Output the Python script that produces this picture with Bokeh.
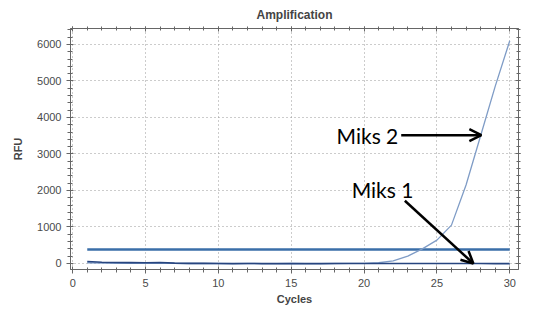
from bokeh.plotting import figure
from bokeh.models import (LinearAxis, Arrow, OpenHead, Range1d, Label, SingleIntervalTicker,
                          CustomJSTickFormatter)
from bokeh.embed import file_html
from bokeh.resources import INLINE

cycles = list(range(1, 31))
miks1 = [55, 35, 25, 22, 20, 28, 10, 2, 4, 0, -4, 0, -4, -4, 0, -4, -4, 0, 0, 0,
         0, 0, 0, 0, 0, 0, 0, 0, -5, -5]
miks2 = [20, 10, 6, 5, 4, 6, 2, 0, 2, 0, -2, 0, -2, -2, 0, -2, -2, 0, 2, 5,
         20, 70, 200, 400, 640, 1050, 2150, 3500, 4850, 6100]
threshold = 380
x_ticks = [0, 5, 10, 15, 20, 25, 30]
y_ticks = [0, 1000, 2000, 3000, 4000, 5000, 6000]

p = figure(width=526, height=308, output_backend="svg", toolbar_location=None,
           x_range=Range1d(-0.15, 30.6), y_range=Range1d(-165, 6436),
           min_border_left=70, min_border_right=8, min_border_top=27, min_border_bottom=39)

p.title.text = "Amplification"
p.title.align = "center"
p.title.text_font = "Liberation Sans"
p.title.text_font_size = "12px"
p.title.text_font_style = "bold"
p.title.offset = 0
p.title.standoff = 10

p.outline_line_color = "#777777"

for ax in (p.xaxis[0], p.yaxis[0]):
    ax.major_label_text_font = "Liberation Sans"
    ax.major_label_text_font_size = "11px"
    ax.major_label_text_color = "#4a4a4a"
    ax.axis_label_text_font = "Liberation Sans"
    ax.axis_label_text_font_style = "bold"
    ax.axis_label_text_font_size = "11px"
    ax.axis_line_color = "#666666"
    ax.major_tick_line_color = "#666666"
    ax.minor_tick_line_color = "#666666"
    ax.major_tick_in = 3
    ax.major_tick_out = 4
    ax.minor_tick_in = 2
    ax.minor_tick_out = 3

p.xaxis.axis_label = "Cycles"
p.yaxis.axis_label = "RFU"
p.xaxis.ticker = SingleIntervalTicker(interval=5, num_minor_ticks=5)
p.yaxis.ticker = SingleIntervalTicker(interval=1000, num_minor_ticks=5)
p.xaxis.axis_label_standoff = 3
p.yaxis.axis_label_standoff = 10

for side, interval, mt in (("above", 5, 5), ("right", 1000, 5)):
    ax = LinearAxis(ticker=SingleIntervalTicker(interval=interval, num_minor_ticks=mt),
                    formatter=CustomJSTickFormatter(code="return ''"),
                    major_label_standoff=0, major_label_text_font_size="1px",
                    axis_line_color="#666666", major_tick_line_color="#666666",
                    minor_tick_line_color="#666666",
                    major_tick_in=3, major_tick_out=2, minor_tick_in=2, minor_tick_out=2)
    p.add_layout(ax, side)

p.xgrid.ticker = SingleIntervalTicker(interval=5)
p.ygrid.ticker = SingleIntervalTicker(interval=1000)
for g in (p.xgrid[0], p.ygrid[0]):
    g.grid_line_color = "#999999"
    g.grid_line_dash = "1 3"
    g.grid_line_width = 1

p.line([cycles[0], cycles[-1]], [threshold, threshold], line_color="#3a6ea8", line_width=2.5)
p.line(cycles, miks2, line_color="#7f9cc6", line_width=1.3)
p.line(cycles, miks1, line_color="#27457f", line_width=1.6)

p.add_layout(Label(x=22.35, y=3515, text="Miks 2", text_align="right", text_baseline="middle",
                   text_font="Lato", text_font_size="21px", text_color="black"))
p.add_layout(Label(x=19.15, y=2016, text="Miks 1", text_align="left", text_baseline="middle",
                   text_font="Lato", text_font_size="21px", text_color="black"))

p.add_layout(Arrow(x_start=22.55, y_start=3515, x_end=28.05, y_end=3515, line_width=2.5,
                   line_color="black",
                   end=OpenHead(size=12, line_width=2.5, line_color="black")))
p.add_layout(Arrow(x_start=22.8, y_start=1717, x_end=27.5, y_end=0, line_width=2.5,
                   line_color="black",
                   end=OpenHead(size=12, line_width=2.5, line_color="black")))

open("out.html", "w").write(file_html(p, INLINE))
